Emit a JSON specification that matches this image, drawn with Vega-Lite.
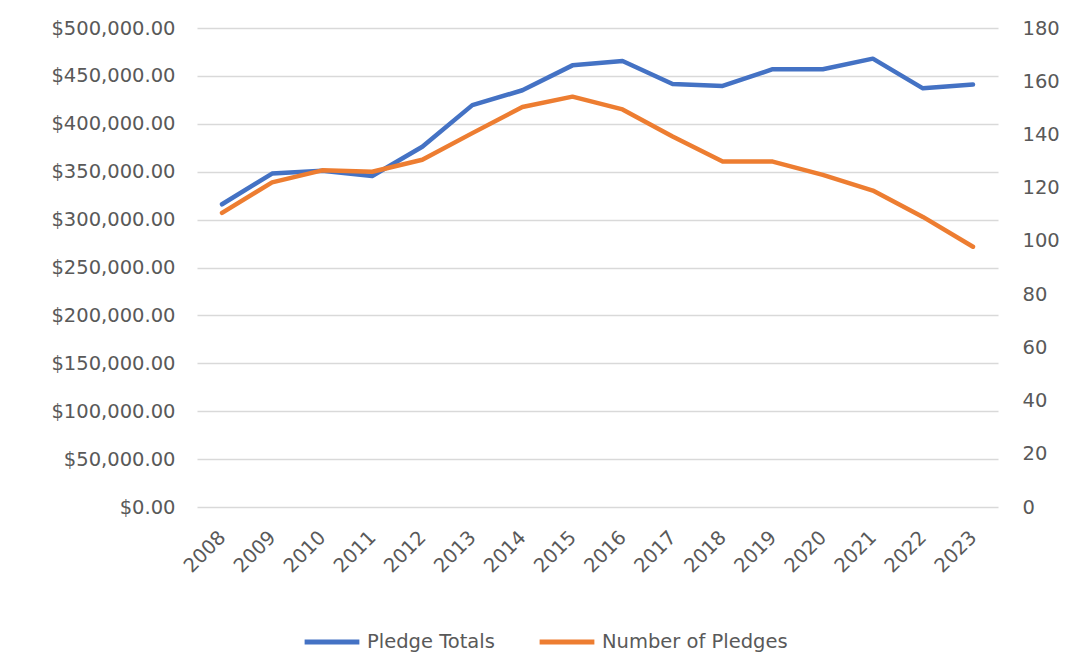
{
  "$schema": "https://vega.github.io/schema/vega-lite/v6.json",
  "autosize": {"type": "none"},
  "width": 801,
  "height": 479,
  "padding": {"left": 197, "top": 28, "right": 68, "bottom": 155},
  "background": "white",
  "config": {
    "view": {"stroke": null},
    "font": "DejaVu Sans",
    "axis": {"labelColor": "#595959", "labelFont": "DejaVu Sans", "labelFontSize": 19.5, "gridColor": "#d9d9d9", "gridWidth": 1.3, "domain": false, "ticks": false}
  },
  "data": {
    "values": [
      {"year": "2008", "total": 316000, "count": 110.5},
      {"year": "2009", "total": 348000, "count": 122},
      {"year": "2010", "total": 351000, "count": 126.5},
      {"year": "2011", "total": 345500, "count": 126},
      {"year": "2012", "total": 376000, "count": 130.5},
      {"year": "2013", "total": 419500, "count": 140.5},
      {"year": "2014", "total": 435000, "count": 150.3},
      {"year": "2015", "total": 461000, "count": 154.2},
      {"year": "2016", "total": 465500, "count": 149.4},
      {"year": "2017", "total": 441500, "count": 139.2},
      {"year": "2018", "total": 439500, "count": 129.8},
      {"year": "2019", "total": 457000, "count": 129.8},
      {"year": "2020", "total": 457000, "count": 124.8},
      {"year": "2021", "total": 468000, "count": 118.9},
      {"year": "2022", "total": 437000, "count": 109},
      {"year": "2023", "total": 441000, "count": 97.8}
    ]
  },
  "encoding": {
    "x": {
      "field": "year", "type": "ordinal",
      "scale": {"type": "point", "padding": 0.5},
      "axis": {"title": null, "labelAngle": -45, "labelAlign": "right", "labelBaseline": "middle", "labelPadding": 27, "grid": false}
    }
  },
  "layer": [
    {
      "mark": {"type": "line", "strokeWidth": 4.5, "strokeJoin": "round", "strokeCap": "round"},
      "encoding": {
        "y": {
          "field": "total", "type": "quantitative",
          "scale": {"domain": [0, 500000], "nice": false},
          "axis": {"title": null, "format": "$,.2f", "values": [0, 50000, 100000, 150000, 200000, 250000, 300000, 350000, 400000, 450000, 500000], "labelPadding": 22, "grid": true}
        },
        "color": {
          "datum": "Pledge Totals",
          "scale": {"domain": ["Pledge Totals", "Number of Pledges"], "range": ["#4472C4", "#ED7D31"]},
          "legend": {
            "title": null, "orient": "none", "legendX": 105, "legendY": 584, "direction": "horizontal",
            "symbolType": "stroke", "symbolSize": 3000, "symbolStrokeWidth": 5,
            "labelFont": "DejaVu Sans", "labelFontSize": 19.5, "labelColor": "#595959", "labelLimit": 400,
            "labelOffset": 5, "columnPadding": 34
          }
        }
      }
    },
    {
      "mark": {"type": "line", "strokeWidth": 4.5, "strokeJoin": "round", "strokeCap": "round"},
      "encoding": {
        "y": {
          "field": "count", "type": "quantitative",
          "scale": {"domain": [0, 180], "nice": false},
          "axis": {"title": null, "orient": "right", "values": [0, 20, 40, 60, 80, 100, 120, 140, 160, 180], "labelPadding": 24, "grid": false}
        },
        "color": {"datum": "Number of Pledges"}
      }
    }
  ],
  "resolve": {"scale": {"y": "independent"}}
}
